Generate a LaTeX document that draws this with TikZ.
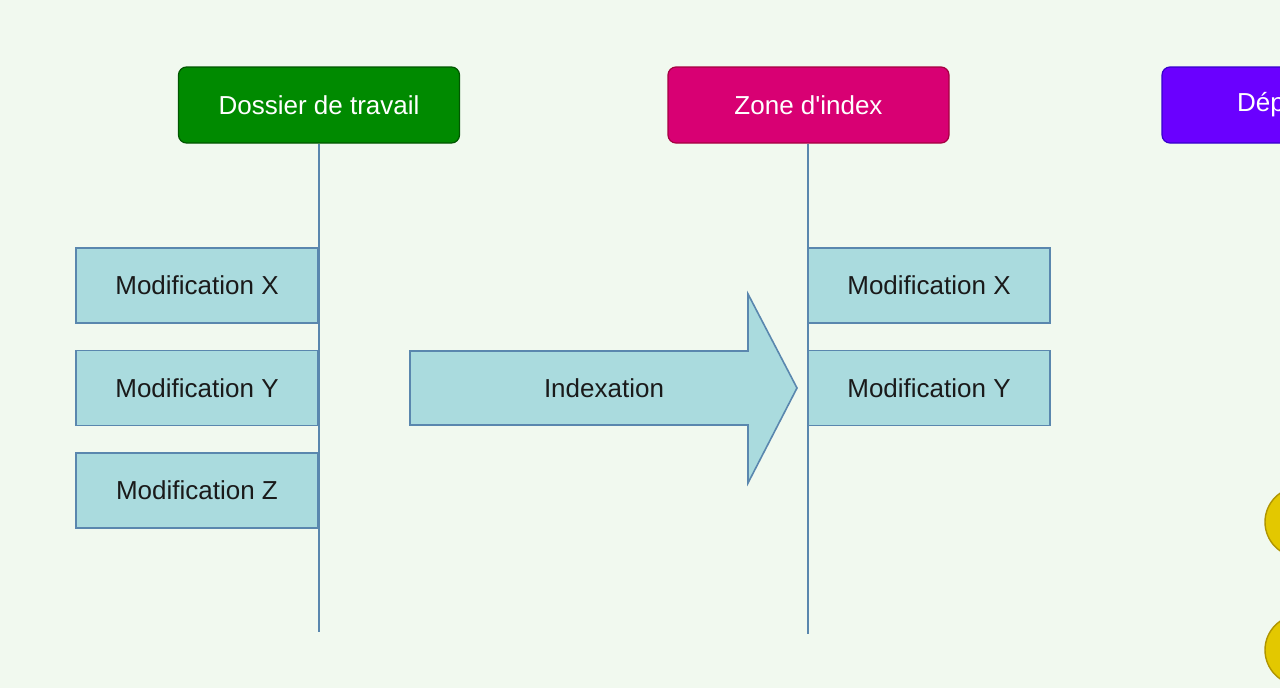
\documentclass[tikz,border=0pt]{standalone}
\usepackage{fontspec}
\setmainfont{Liberation Sans}
\definecolor{bg}{HTML}{F1F9EF}
\definecolor{greenf}{HTML}{008A00}
\definecolor{greend}{HTML}{005700}
\definecolor{crimf}{HTML}{D80073}
\definecolor{crimd}{HTML}{A50040}
\definecolor{purf}{HTML}{6A00FF}
\definecolor{purd}{HTML}{3700CC}
\definecolor{modf}{HTML}{AADBDE}
\definecolor{modd}{HTML}{5A87AE}
\definecolor{yelf}{HTML}{E3C800}
\definecolor{yeld}{HTML}{B09500}
\definecolor{txt}{HTML}{1A1A1A}
\tikzset{
  header/.style={rectangle, rounded corners=8pt, line width=1.2pt, minimum width=281pt, minimum height=76pt, text=white, font=\fontsize{26}{30}\selectfont, inner sep=0pt},
  modbox/.style={rectangle, fill=modf, draw=modd, line width=1.6pt, minimum width=242pt, minimum height=75pt, text=txt, font=\fontsize{26}{30}\selectfont, inner sep=0pt},
  lifeline/.style={draw=modd, line width=1.8pt},
}
\begin{document}
\begin{tikzpicture}[x=1pt,y=-1pt]
\fill[bg] (0,0) rectangle (1280,688);
\useasboundingbox (0,0) rectangle (1280,688);
% headers
\node[header, fill=greenf, draw=greend] (dossier) at (319,105) {Dossier de travail};
\node[header, fill=crimf, draw=crimd] (zone) at (808.5,105) {Zone d\textquotesingle index};
\node[header, fill=purf, draw=purd] (depot) at (1302.5,105) {};
\node[anchor=west, text=white, font=\fontsize{26}{30}\selectfont, inner sep=0pt] (depottxt) at (1237,105) {Dép};
% lifelines
\coordinate (dend) at (319,632);
\coordinate (zend) at (808,634);
\draw[lifeline] (dossier.south) -- (dend);
\draw[lifeline] (zone.south -| zend) -- (zend);
% left modifications
\node[modbox] (lx) at (197,285.5) {Modification X};
\node[modbox] (ly) at (197,388) {Modification Y};
\node[modbox] (lz) at (197,490.5) {Modification Z};
% right modifications
\node[modbox] (rx) at (929,285.5) {Modification X};
\node[modbox] (ry) at (929,388) {Modification Y};
% arrow
\draw[fill=modf, draw=modd, line width=1.6pt, line join=miter]
  (410,351) -- (748,351) -- (748,294) -- (797,388) -- (748,483) -- (748,425) -- (410,425) -- cycle;
\node[text=txt, font=\fontsize{26}{30}\selectfont, inner sep=0pt] (idx) at (604,388) {Indexation};
% yellow circles
\node[circle, fill=yelf, draw=yeld, line width=1.4pt, minimum size=70pt, inner sep=0pt] (c1) at (1300,522) {};
\node[circle, fill=yelf, draw=yeld, line width=1.4pt, minimum size=70pt, inner sep=0pt] (c2) at (1300,650) {};
\end{tikzpicture}
\end{document}
